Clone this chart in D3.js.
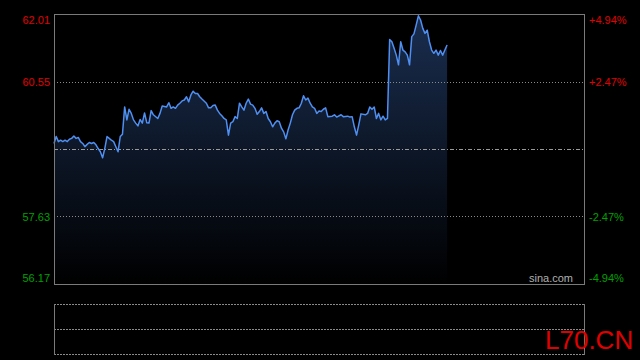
<!DOCTYPE html>
<html lang="zh">
<head>
<meta charset="UTF-8">
<title>分时</title>
<script src="https://cdn.jsdelivr.net/npm/d3@7"></script>
<style>
    body { margin: 0; background: #000; }
    svg { display: block; }
    .axis text { font-family: "Liberation Sans", Arial, sans-serif; font-size: 11px; }
    .axis path, .axis line { display: none; }
</style>
</head>
<body>
<script>
    // 分钟序号（0 = 9:30，全天 0..240）和价格
    var minutes = [0, 1, 2, 3, 4, 5, 6, 7, 8, 9, 10, 11, 12, 13, 14, 15, 16, 17, 18, 19, 20, 21, 22, 23, 24,
        25, 26, 27, 28, 29, 30, 31, 32, 33, 34, 35, 36, 37, 38, 39, 40, 41, 42, 43, 44, 45, 47, 48, 49,
        51, 52, 53, 54, 55, 56, 57, 58, 59, 60, 61, 62, 63, 64, 65, 66, 67, 69, 70, 71, 72, 73, 74,
        75, 76, 77, 78, 79, 80, 81, 82, 83, 84, 85, 86, 87, 88, 89, 90, 91, 92, 93, 94, 95, 96, 97, 98, 99,
        100, 101, 102, 103, 104, 105, 106, 107, 108, 109, 110, 111, 112, 113, 114, 115, 116, 117, 118, 119,
        120, 121, 122, 123, 124, 126, 127, 128, 130, 131, 133, 134, 135, 136, 137, 138, 139, 141, 142, 143, 144,
        145, 146, 147, 148, 149, 150, 151, 152, 153, 154, 155, 156, 157, 158, 159, 160, 161, 162, 163, 164,
        165, 166, 167, 168, 169, 170, 171, 172, 173, 174, 175, 176, 177, 178];
    var prices = [59.21, 59.36, 59.25, 59.28, 59.25, 59.28, 59.25, 59.30, 59.32, 59.37, 59.32, 59.34, 59.25, 59.21, 59.14, 59.19, 59.23, 59.21, 59.23, 59.18, 59.10, 59.03, 58.90, 59.10, 59.36,
        59.32, 59.28, 59.25, 59.14, 59.03, 59.36, 59.41, 60.00, 59.72, 59.95, 59.86, 59.72, 59.65, 59.59, 59.73, 59.65, 59.87, 59.66, 59.65, 59.92, 59.83, 59.75, 59.86, 60.02,
        60.00, 60.09, 59.97, 60.00, 59.97, 60.04, 60.08, 60.13, 60.15, 60.22, 60.11, 60.26, 60.34, 60.29, 60.29, 60.22, 60.17, 60.08, 59.98, 59.98, 60.03, 60.04, 59.93,
        59.86, 59.81, 59.75, 59.72, 59.39, 59.65, 59.68, 59.79, 59.75, 60.08, 60.00, 59.93, 60.08, 60.17, 60.06, 60.04, 59.97, 59.84, 59.90, 59.98, 59.86, 59.90, 59.75, 59.68, 59.57,
        59.65, 59.70, 59.68, 59.54, 59.46, 59.31, 59.50, 59.65, 59.83, 59.93, 59.97, 59.98, 60.08, 60.24, 60.15, 60.19, 60.08, 60.00, 59.97, 59.86,
        59.91, 59.90, 59.95, 59.98, 59.79, 59.80, 59.83, 59.78, 59.83, 59.79, 59.80, 59.78, 59.79, 59.57, 59.39, 59.61, 59.85, 59.83, 59.86, 60.00, 59.95,
        60.00, 59.75, 59.86, 59.72, 59.80, 59.72, 59.75, 61.46, 61.41, 61.27, 61.12, 60.91, 61.41, 61.23, 61.19, 61.12, 60.91, 61.52, 61.58, 61.77,
        61.97, 61.88, 61.70, 61.59, 61.66, 61.41, 61.23, 61.16, 61.23, 61.12, 61.22, 61.12, 61.23, 61.34];

    var preClose = 59.09;
    var priceTicks = [62.01, 60.55, 57.63, 56.17];
    var pctTicks = ["+4.94%", "+2.47%", "-2.47%", "-4.94%"];

    var width = 640, height = 360;
    var chartL = 54, chartR = 584, chartT = 14, chartB = 284;

    var svg = d3.select("body").append("svg")
        .attr("width", width)
        .attr("height", height);

    var x = d3.scaleLinear().domain([0, 240]).range([chartL, chartR]);
    var y = d3.scaleLinear().domain([56.17, 62.01]).range([chartB, chartT]);

    // 面积渐变
    var grad = svg.append("defs").append("linearGradient")
        .attr("id", "fillGrad")
        .attr("gradientUnits", "userSpaceOnUse")
        .attr("x1", 0).attr("y1", chartT).attr("x2", 0).attr("y2", chartB);
    grad.append("stop").attr("offset", 0).attr("stop-color", "#1a2e50");
    grad.append("stop").attr("offset", 1).attr("stop-color", "#000000");

    var pts = minutes.map(function(m, i){ return [m, prices[i]]; });

    svg.append("path")
        .datum(pts)
        .attr("fill", "url(#fillGrad)")
        .attr("d", d3.area()
            .x(function(d){ return x(d[0]); })
            .y0(chartB)
            .y1(function(d){ return y(d[1]); }));

    // 网格线
    svg.selectAll(".grid")
        .data([60.55, 57.63])
        .enter().append("line")
        .attr("x1", chartL).attr("x2", chartR)
        .attr("y1", function(d){ return Math.round(y(d)) + 0.5; })
        .attr("y2", function(d){ return Math.round(y(d)) + 0.5; })
        .attr("stroke", "#8a8a8a")
        .attr("stroke-dasharray", "1,2");

    // 昨收线
    svg.append("line")
        .attr("x1", chartL).attr("x2", chartR)
        .attr("y1", Math.round(y(preClose)) + 0.5)
        .attr("y2", Math.round(y(preClose)) + 0.5)
        .attr("stroke", "#9a9a9a")
        .attr("stroke-dasharray", "4,2,1,2");

    svg.append("path")
        .datum(pts)
        .attr("fill", "none")
        .attr("stroke", "#4f8ff2")
        .attr("stroke-width", 1.5)
        .attr("stroke-linejoin", "round")
        .attr("d", d3.line()
            .x(function(d){ return x(d[0]); })
            .y(function(d){ return y(d[1]); }));

    // 外框
    svg.append("rect")
        .attr("x", chartL + 0.5).attr("y", chartT + 0.5)
        .attr("width", chartR - chartL).attr("height", chartB - chartT)
        .attr("fill", "none")
        .attr("stroke", "#7a7a7a");

    function tickColor(v){ return v > preClose ? "#e00000" : "#00a000"; }
    // 最上和最下的标签往里挪一点
    function tickShift(v){ return v === priceTicks[0] ? 6 : (v === priceTicks[priceTicks.length - 1] ? -6 : 0); }

    // 左侧价格
    var axisL = d3.axisLeft(y).tickValues(priceTicks).tickSize(0).tickPadding(4)
        .tickFormat(d3.format(".2f"));
    svg.append("g").attr("class", "axis")
        .attr("transform", "translate(" + chartL + ",0)")
        .call(axisL)
        .selectAll("text")
        .attr("y", tickShift)
        .attr("fill", tickColor);

    // 右侧涨跌幅
    var axisR = d3.axisRight(y).tickValues(priceTicks).tickSize(0).tickPadding(5)
        .tickFormat(function(d, i){ return pctTicks[i]; });
    svg.append("g").attr("class", "axis")
        .attr("transform", "translate(" + chartR + ",0)")
        .call(axisR)
        .selectAll("text")
        .attr("y", tickShift)
        .attr("fill", tickColor);

    svg.append("text")
        .attr("x", chartR - 11).attr("y", chartB - 2)
        .attr("text-anchor", "end")
        .attr("font-family", "Liberation Sans, Arial, sans-serif")
        .attr("font-size", 11)
        .attr("fill", "#b0b0b0")
        .text("sina.com");

    // 下方成交量面板
    var vTop = 304, vBottom = 354;
    svg.selectAll(".vgrid")
        .data([vTop, (vTop + vBottom) / 2, vBottom])
        .enter().append("line")
        .attr("x1", chartL).attr("x2", chartR)
        .attr("y1", function(d){ return d + 0.5; })
        .attr("y2", function(d){ return d + 0.5; })
        .attr("stroke", "#8a8a8a")
        .attr("stroke-dasharray", "2,1");
    svg.selectAll(".vside")
        .data([chartL, chartR])
        .enter().append("line")
        .attr("x1", function(d){ return d + 0.5; })
        .attr("x2", function(d){ return d + 0.5; })
        .attr("y1", vTop).attr("y2", vBottom + 1)
        .attr("stroke", "#7a7a7a");

    svg.append("text")
        .attr("x", 545).attr("y", 349)
        .attr("font-family", "Liberation Sans, Arial, sans-serif")
        .attr("font-size", 26)
        .attr("fill", "#e00000")
        .text("L70.CN");
</script>
</body>
</html>
